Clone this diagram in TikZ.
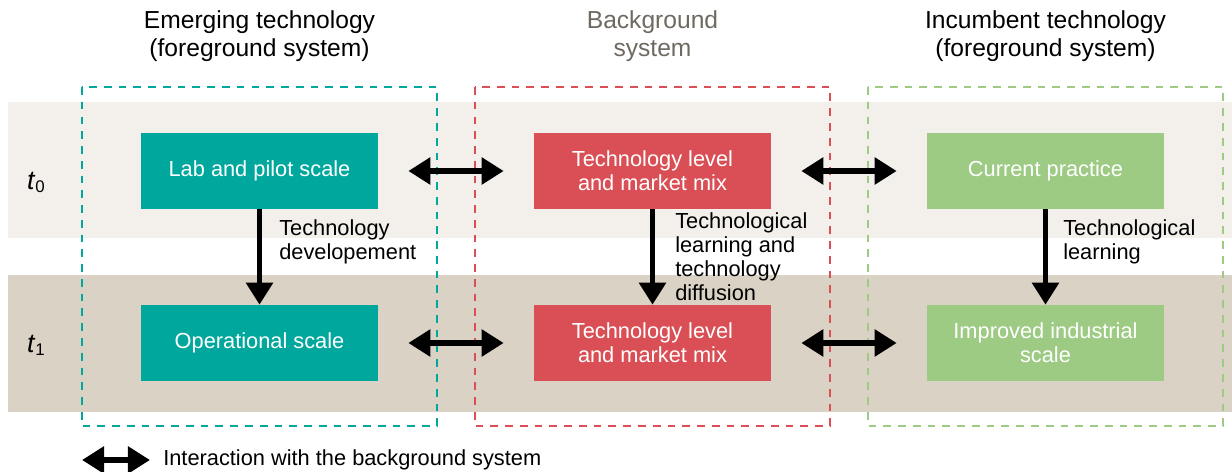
\documentclass[tikz,border=0pt]{standalone}
\usepackage{fontspec}
\setmainfont{Liberation Sans}
\usetikzlibrary{arrows.meta}
\definecolor{emerg}{HTML}{00A79D}
\definecolor{backg}{HTML}{DA4F55}
\definecolor{incumb}{HTML}{9DCB84}
\definecolor{bandlight}{HTML}{F3F0EB}
\definecolor{banddark}{HTML}{DAD3C5}
\definecolor{bgtext}{HTML}{6E6A62}
\tikzstyle{stage}=[minimum width=5.925cm,minimum height=1.9cm,inner sep=0pt,text=white,align=center,font=\fontsize{15.5}{17}\selectfont]
\tikzstyle{system}=[line width=1.7pt,dash pattern=on 5.5pt off 5pt]
\tikzstyle{progress}=[line width=4pt,-{Triangle[length=0.55cm,width=0.65cm]}]
\tikzstyle{interact}=[line width=4pt,{Triangle[length=0.55cm,width=0.65cm]}-{Triangle[length=0.55cm,width=0.65cm]},shorten >=0.75cm,shorten <=0.75cm]
\tikzstyle{note}=[anchor=west,align=left,inner sep=0pt,font=\fontsize{15.5}{17}\selectfont]
\tikzstyle{heading}=[align=center,inner sep=0pt,font=\fontsize{17.5}{20}\selectfont]
\newcommand{\tstep}[1]{{\fontsize{19}{20}\selectfont\textit{t}}\raisebox{-0.4ex}{\fontsize{12}{13}\selectfont #1}}

\begin{document}
\begin{tikzpicture}[x=0.025cm,y=-0.025cm]
	\useasboundingbox (0,0) rectangle (1232,472);
	% time bands
	\fill[bandlight] (8,102) rectangle (1232,238);
	\fill[banddark] (8,275) rectangle (1232,412);
	% systems
	\draw[system,draw=emerg] (82,87) rectangle (437,426);
	\draw[system,draw=backg] (475,87) rectangle (830,426);
	\draw[system,draw=incumb] (868,87) rectangle (1223,426);
	\node[heading] (emtitle) at (259.5,36) {Emerging technology\\(foreground system)};
	\node[heading,text=bgtext] (bgtitle) at (652.5,36) {Background\\system};
	\node[heading] (intitle) at (1045.5,36) {Incumbent technology\\(foreground system)};
	\node (t0) at (36,182) {\tstep{0}};
	\node (t1) at (36,345) {\tstep{1}};
	% stages
	\node[stage,fill=emerg] (lab) at (259.5,171) {Lab and pilot scale};
	\node[stage,fill=emerg] (op) at (259.5,343) {Operational scale};
	\node[stage,fill=backg] (mix0) at (652.5,171) {Technology level\\and market mix};
	\node[stage,fill=backg] (mix1) at (652.5,343) {Technology level\\and market mix};
	\node[stage,fill=incumb] (cur) at (1045.5,171) {Current practice};
	\node[stage,fill=incumb] (imp) at (1045.5,343) {Improved industrial\\scale};
	\draw[progress] (lab) -- (op);
	\draw[progress] (mix0) -- (mix1);
	\draw[progress] (cur) -- (imp);
	\node[note] (dev) at (279,242) {Technology\\developement};
	\node[note] (diff) at (675,257) {Technological\\learning and\\technology\\diffusion};
	\node[note] (learn) at (1063,242) {Technological\\learning};
	\draw[interact] (lab) -- (mix0);
	\draw[interact] (mix0) -- (cur);
	\draw[interact] (op) -- (mix1);
	\draw[interact] (mix1) -- (imp);
	% legend
	\coordinate (key0) at (82,460);
	\coordinate (key1) at (150,460);
	\draw[interact,shorten >=0pt,shorten <=0pt] (key0) -- (key1);
	\node[note] (keytext) at (163,460) {Interaction with the background system};
\end{tikzpicture}
\end{document}
